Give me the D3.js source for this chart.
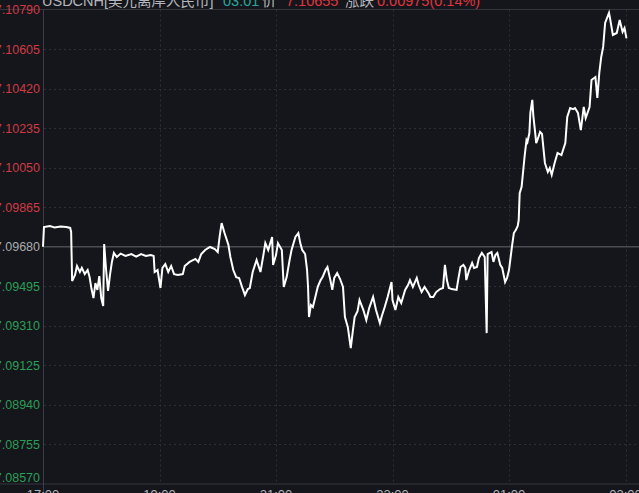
<!DOCTYPE html>
<html lang="zh">
<head>
<meta charset="UTF-8">
<title>USDCNH 分时</title>
<script src="https://d3js.org/d3.v7.min.js"></script>
<style>
  html, body { margin: 0; padding: 0; background: #15161b; overflow: hidden; }
  svg { display: block; }
  .ylab, .xlab { font-family: "Liberation Sans", Arial, sans-serif; }
  .title { font-family: "Liberation Sans", "Noto Sans CJK SC", sans-serif; font-size: 14.5px; }
</style>
</head>
<body>
<div id="chart"></div>
<script>
// ---- data ----
const prevClose = 7.09680;

const yTicks = [7.10790, 7.10605, 7.10420, 7.10235, 7.10050, 7.09865, 7.09680,
                7.09495, 7.09310, 7.09125, 7.08940, 7.08755, 7.08570];

const xTickLabels = ["17:00", "19:00", "21:00", "23:00", "01:00", "03:00"];
const xTickMinutes = [0, 120, 240, 360, 480, 600];

// minutes after the 17:00 open
const minutes = [
  0, 1, 7, 12, 18, 24, 28, 29, 30, 33, 35, 38, 40, 43, 46, 48, 50, 52, 54, 56,
  58, 60, 62, 63, 65, 67, 69, 71, 73, 76, 80, 85, 91, 96, 101, 106, 111, 114, 115, 118,
  121, 123, 126, 129, 132, 135, 139, 144, 146, 151, 157, 160, 163, 167, 172, 177, 180, 182, 184, 187,
  191, 193, 196, 199, 202, 205, 208, 211, 213, 216, 220, 224, 227, 229, 232, 236, 237, 240, 242, 246,
  248, 251, 254, 256, 260, 263, 265, 267, 270, 272, 273, 274, 276, 278, 281, 283, 286, 288, 291, 293,
  296, 298, 300, 303, 306, 309, 311, 314, 317, 319, 321, 324, 326, 330, 333, 336, 340, 343, 347, 349,
  352, 355, 359, 360, 363, 366, 369, 373, 376, 378, 381, 385, 387, 390, 393, 397, 399, 402, 405, 409,
  412, 414, 416, 418, 421, 426, 428, 430, 433, 435, 436, 439, 442, 444, 447, 449, 452, 455, 457, 458,
  462, 464, 466, 468, 471, 473, 476, 478, 480, 483, 485, 487, 489, 490, 491, 493, 495, 496, 498, 499,
  501, 502, 504, 505, 507, 508, 510, 512, 514, 517, 520, 522, 524, 527, 530, 534, 538, 540, 543, 546,
  548, 551, 554, 557, 559, 563, 565, 569, 571, 573, 575, 577, 579, 583, 584, 587, 591, 594, 597, 599,
  601
];

const prices = [
  7.09680, 7.09772, 7.09777, 7.09770, 7.09775, 7.09772, 7.09768, 7.09749, 7.09520, 7.09548,
  7.09590, 7.09562, 7.09581, 7.09552, 7.09571, 7.09538, 7.09482, 7.09440, 7.09510, 7.09478,
  7.09543, 7.09440, 7.09403, 7.09693, 7.09571, 7.09473, 7.09548, 7.09609, 7.09651, 7.09632,
  7.09648, 7.09637, 7.09646, 7.09634, 7.09646, 7.09637, 7.09641, 7.09637, 7.09562, 7.09571,
  7.09487, 7.09581, 7.09599, 7.09562, 7.09590, 7.09552, 7.09548, 7.09552, 7.09590, 7.09609,
  7.09623, 7.09609, 7.09646, 7.09665, 7.09679, 7.09669, 7.09655, 7.09730, 7.09791, 7.09744,
  7.09688, 7.09632, 7.09571, 7.09538, 7.09534, 7.09492, 7.09454, 7.09482, 7.09487, 7.09562,
  7.09618, 7.09562, 7.09641, 7.09697, 7.09665, 7.09726, 7.09595, 7.09641, 7.09697, 7.09665,
  7.09492, 7.09538, 7.09618, 7.09665, 7.09726, 7.09744, 7.09697, 7.09665, 7.09646, 7.09571,
  7.09492, 7.09351, 7.09407, 7.09398, 7.09454, 7.09492, 7.09524, 7.09538, 7.09571, 7.09585,
  7.09524, 7.09478, 7.09534, 7.09557, 7.09529, 7.09492, 7.09351, 7.09304, 7.09206, 7.09281,
  7.09351, 7.09379, 7.09431, 7.09384, 7.09337, 7.09393, 7.09445, 7.09384, 7.09323, 7.09356,
  7.09398, 7.09445, 7.09515, 7.09431, 7.09384, 7.09445, 7.09417, 7.09478, 7.09501, 7.09524,
  7.09492, 7.09534, 7.09501, 7.09468, 7.09492, 7.09464, 7.09445, 7.09445, 7.09468, 7.09482,
  7.09487, 7.09595, 7.09524, 7.09487, 7.09482, 7.09478, 7.09534, 7.09585, 7.09595, 7.09581,
  7.09524, 7.09571, 7.09604, 7.09581, 7.09585, 7.09627, 7.09651, 7.09632, 7.09276, 7.09646,
  7.09655, 7.09609, 7.09641, 7.09651, 7.09595, 7.09581, 7.09515, 7.09534, 7.09571, 7.09679,
  7.09744, 7.09758, 7.09777, 7.09805, 7.09931, 7.09960, 7.10053, 7.10100, 7.10179, 7.10170,
  7.10212, 7.10306, 7.10367, 7.10296, 7.10212, 7.10165, 7.10189, 7.10217, 7.10208, 7.10072,
  7.10030, 7.10048, 7.10016, 7.10072, 7.10119, 7.10109, 7.10165, 7.10287, 7.10329, 7.10324,
  7.10329, 7.10306, 7.10226, 7.10334, 7.10282, 7.10334, 7.10460, 7.10474, 7.10376, 7.10493,
  7.10568, 7.10615, 7.10727, 7.10774, 7.10750, 7.10671, 7.10680, 7.10741, 7.10685, 7.10703,
  7.10655
];

// header pieces: text, colour, x
const titleParts = [
  { text: "USDCNH[美元离岸人民币]", color: "#b4b6bb", x: 42 },
  { text: "03:01", color: "#2aa69a", x: 223 },
  { text: "价", color: "#b4b6bb", x: 262 },
  { text: "7.10655", color: "#e0343f", x: 286 },
  { text: "涨跌", color: "#b4b6bb", x: 345 },
  { text: "0.00975(0.14%)", color: "#e0343f", x: 377 }
];

// ---- drawing ----
const W = 639, H = 493;
const plotLeft = 43, plotRight = W, plotTop = 9.5, plotBottom = 484;

const svg = d3.select("#chart").append("svg")
  .attr("width", W)
  .attr("height", H);

svg.append("rect").attr("width", W).attr("height", H).attr("fill", "#15161b");

const x = d3.scaleLinear().domain([0, 600]).range([plotLeft, 625.5]);
const y = d3.scaleLinear().domain([d3.min(yTicks), d3.max(yTicks)]).range([plotBottom, plotTop]);

// horizontal dotted grid
svg.append("g").selectAll("line")
  .data(yTicks.filter(d => d !== prevClose && d !== d3.max(yTicks) && d !== d3.min(yTicks)))
  .join("line")
  .attr("x1", plotLeft + 1).attr("x2", plotRight)
  .attr("y1", d => Math.round(y(d)) + 0.5).attr("y2", d => Math.round(y(d)) + 0.5)
  .attr("stroke", "#2d2f36")
  .attr("stroke-dasharray", "2,3");

// vertical dotted grid
svg.append("g").selectAll("line")
  .data(xTickMinutes.slice(1))
  .join("line")
  .attr("x1", d => Math.round(x(d)) + 0.5).attr("x2", d => Math.round(x(d)) + 0.5)
  .attr("y1", plotTop).attr("y2", plotBottom)
  .attr("stroke", "#2d2f36")
  .attr("stroke-dasharray", "2,3");

// frame lines
svg.append("line").attr("x1", 0).attr("x2", plotRight).attr("y1", plotTop).attr("y2", plotTop)
  .attr("stroke", "#34363d");
svg.append("line").attr("x1", 0).attr("x2", plotRight).attr("y1", plotBottom).attr("y2", plotBottom)
  .attr("stroke", "#34363d");
svg.append("line").attr("x1", plotLeft + 0.5).attr("x2", plotLeft + 0.5).attr("y1", plotTop).attr("y2", H)
  .attr("stroke", "#3c3e45");

// previous close line
svg.append("line")
  .attr("x1", plotLeft).attr("x2", plotRight)
  .attr("y1", y(prevClose)).attr("y2", y(prevClose))
  .attr("stroke", "#4a4c53")
  .attr("stroke-width", 1.5);

// y labels
svg.append("g").selectAll("text")
  .data(yTicks)
  .join("text")
  .attr("class", "ylab")
  .attr("x", 40)
  .attr("y", d => {
    if (d === d3.min(yTicks)) return y(d) - 7;
    return y(d);
  })
  .attr("dy", "0.36em")
  .attr("text-anchor", "end")
  .attr("font-size", "12.5px")
  .attr("fill", d => d > prevClose ? "#cf3a45" : d < prevClose ? "#2b9e57" : "#a9abb0")
  .text(d => d.toFixed(5));

// x labels
svg.append("g").selectAll("text")
  .data(xTickMinutes)
  .join("text")
  .attr("class", "xlab")
  .attr("x", d => x(d))
  .attr("y", 498.5)
  .attr("text-anchor", "middle")
  .attr("font-size", "13px")
  .attr("fill", "#b0b2b7")
  .text((d, i) => xTickLabels[i]);

// header
const title = svg.append("text").attr("class", "title").attr("y", 5.5);
titleParts.forEach(p => {
  title.append("tspan").attr("x", p.x).attr("fill", p.color).text(p.text);
});

// price line
const series = minutes.map((m, i) => ({ m: m, v: prices[i] }));
const line = d3.line()
  .x(d => x(d.m))
  .y(d => y(d.v));

svg.append("path")
  .datum(series)
  .attr("fill", "none")
  .attr("stroke", "#ffffff")
  .attr("stroke-width", 2)
  .attr("stroke-linejoin", "miter")
  .attr("d", line);
</script>
</body>
</html>
